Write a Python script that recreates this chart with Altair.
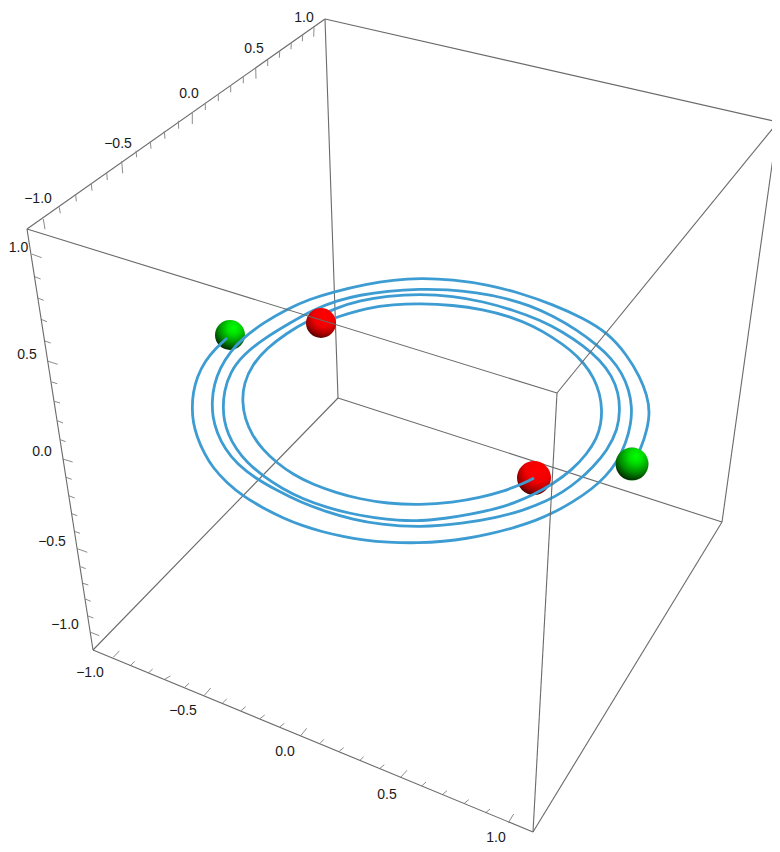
import altair as alt
import pandas as pd

# Box edges (image pixels): x1, y1, x2, y2
back_edges = [
    (325, 19, 778, 122), (325, 19, 338, 398), (27, 229, 325, 19),
    (93, 650, 338, 398), (338, 398, 722, 522),
]
front_edges = [
    (27, 229, 557, 393), (557, 393, 778, 122), (27, 229, 93, 650),
    (93, 650, 533, 832), (533, 832, 722, 522), (722, 522, 778, 122),
    (557, 393, 533, 832),
]
# Tick marks per axis
ticks_top = [
    (43.3,219,45,229.3),(59.3,207.3,60.3,213.3),(75.7,195,76.3,201.3),(91.3,183.3,92,190.7),
    (106.7,172.3,107.3,180),(121.7,161,122.7,173.3),(136,150.7,136.7,157.3),(150.3,141,151,148.7),
    (164.3,131,165,138.7),(178.3,120.7,178.7,128.7),(192.3,112,192.3,124),(205.3,102.7,205.3,110),
    (218.3,94,218.3,101),(230.7,85,230.7,92.3),(243.3,76.3,243.3,83.3),(255.7,68,256,78.7),
    (267.7,60,267.7,66),(279.7,51.7,279.3,57.7),(291.3,43.3,291,49.3),(302.7,35,302.3,41.3),
    (314,27.3,313.7,36.7),
]
ticks_left = [
    (31.7,254,41.7,257.7),(34.7,276.7,40.7,279),(37.7,298,43.7,300.3),(41,319.3,47,321.7),
    (44,340.7,50.7,343),(47.3,361,57.7,364.3),(51.7,382,57.3,383.7),(54.3,401.3,60,403),
    (57.3,420.7,63,423),(60.3,439.7,65.7,441.7),(62.7,459,72.7,462),(66,477.3,71.7,479.3),
    (68.7,495.7,74.7,498),(71.7,513.7,77.3,515.7),(74.3,531.3,80,533.3),(77.3,548.7,87.3,552.3),
    (80.7,566.7,85.7,568.7),(83,583.3,88.3,585),(85.3,599,90.7,601.3),(88,616,93.3,618),
    (90.7,632.3,99.3,635.7),
]
ticks_bottom = [
    (113.3,657.3,119.3,651),(130.7,665.3,134.7,661.3),(148.7,672.7,152.7,669),(164.7,679.3,170.3,676),
    (184.7,687.3,189,683.3),(204,695.7,210.7,688),(222.3,703.3,226.7,699),(241,710.7,245.7,706.7),
    (260,718.7,264.7,715),(280,726.7,284.3,723.3),(300.7,735.7,306.7,728.3),(320,743.3,324,739.3),
    (339.3,751.3,343.7,747.7),(360,760.3,363.7,756.7),(380,768.3,384.3,764.7),(400.7,777.3,407,770.3),
    (421.7,786,426,782),(442.3,794.7,447,790.7),(464.3,803.3,468.7,799.7),(485.7,812.7,490,809),
    (508.3,822.7,513.7,814),
]
# Tick labels
labels = [
    ("−1.0", 38, 199), ("−0.5", 118, 144), ("0.0", 189, 94), ("0.5", 254, 49), ("1.0", 304, 18),
    ("1.0", 18.5, 248), ("0.5", 27, 355), ("0.0", 42, 452), ("−0.5", 52, 542), ("−1.0", 65, 625),
    ("−1.0", 90, 673), ("−0.5", 183, 711), ("0.0", 285, 752), ("0.5", 387, 795), ("1.0", 496, 838),
]
# Trajectory A: from the far red sphere out to the left green sphere
curve_a = [
    (321,323),(337,317),(367,308),(393,304.5),(420,303.5),(453,305),(483,309.5),(510,316.5),(533,326),
    (553,337.5),(570,349.5),(584,363),(594,378),(600,394),(602,410),
    (601,424),(597,438),(587,454),(572,470),(553,484),(533,495),(514,503),(497,508.5),(470,514.5),(445,518.5),(420,521),
    (398,520.5),(375,518),(350,513.5),(327,507.5),(303,499),(282,488.5),(263,476),(247,462.5),(236,449),(228,434),(224,420),(223,407),
    (224,392),(230,372),(244,354),(265,338),(290,323),(313,310),(337,300.5),(360,295),(387,291),(420,289),
    (447,289.5),(477,292.5),(503,297.5),(530,305.5),(553,316),(577,330),(597,345),(611,358),(622,373),(629,390),(632,407),
    (631,424),(626,443),(617,462),(606,476),(592,489),(573,502),(553,513),(537,520),(515,527.5),(490,534),(467,538.5),(443,541.5),(420,543),
    (387,542.5),(363,540),(343,536.5),(323,532),(303,526),(283,518),(263,508),(243,496),(227,483),(213,468),(204,453),(197,437),(193,422),(192,408),
    (193,393),(197,377),(205,361),(216,348),(227,338),
]
# Trajectory B: from the near red sphere out to the right green sphere
curve_b = [
    (534,478),(525,483),(503,491.5),(480,497.5),(453,502.5),(420,505),
    (387,503.5),(360,499),(337,493),(313,484.5),(293,474.5),(277,463),(263,450),(252,435),(245,419),(242,401),
    (244,383),(252,365),(267,348),(287,333),(307,321),(337,307.5),(360,300.5),(387,296),(420,294),
    (453,296),(483,301.5),(513,310),(540,320),(563,332),(583,345.5),(600,360),(612,376),(618.5,393),(620,410),
    (618,429),(607,451),(593,467),(578,481),(563,492),(547,501),(523,510.5),(497,517.5),(463,523.5),(420,527.5),
    (380,524.5),(353,519.5),(327,512),(300,502),(277,490.5),(255,478),(237,464),(225,449),(217,433),(212.5,417),(212,400),
    (214,385),(220,368),(230,352),(243,338),(263,323),(287,309),(310,299),(333,292),(367,284),(393,280),(420,278),
    (453,279.5),(487,284.5),(520,293),(553,304.5),(583,318),(608,333),(627,355),(640,377),(647,395),(650,412),(647,430),(641,449),(632,464),
]
# Spheres
sphere_x = [230, 534, 632, 321]
sphere_y = [335, 478, 464, 323]
sphere_size = [900, 1156, 1089, 900]

# The page margin puts the plot's origin at image pixel (8, 8).
PX_X = alt.Scale(domain=[8, 772], range=[0, 764], nice=False, zero=False)
PX_Y = alt.Scale(domain=[8, 852], range=[0, 844], nice=False, zero=False)
X = lambda f="x": alt.X(f"{f}:Q", scale=PX_X, axis=None)
Y = lambda f="y": alt.Y(f"{f}:Q", scale=PX_Y, axis=None)


def seg_chart(rows, color, width):
    df = pd.DataFrame(rows, columns=["x", "y", "x2", "y2"])
    return alt.Chart(df).mark_rule(color=color, strokeWidth=width).encode(
        x=X(), y=Y(), x2="x2:Q", y2="y2:Q"
    )


def curve_chart(points):
    df = pd.DataFrame(points, columns=["x", "y"])
    df["i"] = range(len(df))
    return alt.Chart(df).mark_line(
        color="#3d9cd2", strokeWidth=2.8, strokeCap="butt", strokeJoin="round",
        interpolate="basis",
    ).encode(x=X(), y=Y(), order="i:Q")


def sphere(idx, stops):
    grad = alt.RadialGradient(
        gradient="radial", x1=0.62, y1=0.27, r1=0.0, x2=0.62, y2=0.27, r2=0.82,
        stops=[alt.GradientStop(offset=o, color=c) for o, c in stops],
    )
    df = pd.DataFrame({"x": [sphere_x[idx]], "y": [sphere_y[idx]], "s": [sphere_size[idx]]})
    return alt.Chart(df).mark_point(filled=True, fill=grad, opacity=1, strokeWidth=0).encode(
        x=X(), y=Y(),
        size=alt.Size("s:Q", scale=None, legend=None),
    )


RED = [(0, "#ff0000"), (0.45, "#f00000"), (0.75, "#a00000"), (1, "#300000")]
GREEN = [(0, "#00ff00"), (0.25, "#00e000"), (0.6, "#008c00"), (1, "#001000")]

label_df = pd.DataFrame(labels, columns=["t", "x", "y"])
label_chart = alt.Chart(label_df).mark_text(
    font="Liberation Sans", fontSize=14, color="#1a1a1a", align="center", baseline="middle"
).encode(x=X(), y=Y(), text="t:N")

chart = alt.layer(
    seg_chart(back_edges, "#6a6a6a", 1.1),
    seg_chart(ticks_top + ticks_left + ticks_bottom, "#8c8c8c", 1),
    sphere(0, GREEN),
    sphere(1, RED),
    curve_chart(curve_a),
    curve_chart(curve_b),
    sphere(2, GREEN),
    sphere(3, RED),
    seg_chart(front_edges, "#6a6a6a", 1.1),
    label_chart,
).properties(
    width=764,
    height=844,
    padding=0,
    autosize=alt.AutoSizeParams(type="none"),
    background="white",
).configure_view(stroke=None)

chart.save("out.html", embed_options={"renderer": "svg", "actions": False})
